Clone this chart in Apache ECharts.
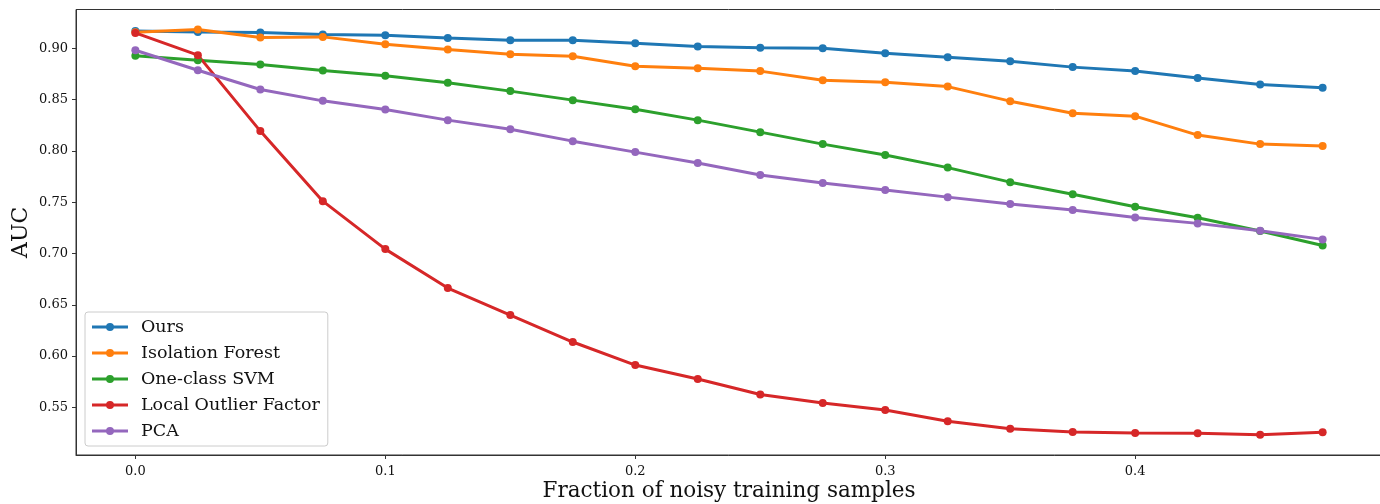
<!DOCTYPE html>
<html>
<head>
<meta charset="utf-8">
<script src="https://cdn.jsdelivr.net/npm/echarts@6/dist/echarts.min.js"></script>
<style>html,body{margin:0;padding:0;background:#fff}#c{width:1380px;height:504px}</style>
</head>
<body>
<div id="c"></div>
<script>
const fractions = [0, 0.025, 0.05, 0.075, 0.1, 0.125, 0.15, 0.175, 0.2, 0.225, 0.25, 0.275, 0.3, 0.325, 0.35, 0.375, 0.4, 0.425, 0.45, 0.475];
const ours = [0.917, 0.916, 0.9156, 0.9137, 0.913, 0.9103, 0.908, 0.908, 0.905, 0.902, 0.9008, 0.9003, 0.8954, 0.8915, 0.8876, 0.8818, 0.878, 0.8713, 0.8649, 0.8616];
const isolationForest = [0.9159, 0.9185, 0.9107, 0.9113, 0.9042, 0.899, 0.8944, 0.8925, 0.8827, 0.8808, 0.8779, 0.8691, 0.8671, 0.8628, 0.8486, 0.8369, 0.834, 0.8155, 0.8067, 0.8048];
const oneClassSVM = [0.8928, 0.8886, 0.8844, 0.8786, 0.8733, 0.8665, 0.8584, 0.8496, 0.8408, 0.8301, 0.8184, 0.8067, 0.796, 0.7838, 0.7696, 0.7579, 0.7456, 0.7349, 0.7219, 0.7079];
const localOutlierFactor = [0.9152, 0.8935, 0.8194, 0.7511, 0.7043, 0.6663, 0.64, 0.6137, 0.5912, 0.5776, 0.5625, 0.5542, 0.5474, 0.5364, 0.5292, 0.5259, 0.525, 0.5246, 0.5233, 0.5256];
const pca = [0.8983, 0.8788, 0.86, 0.8489, 0.8405, 0.8301, 0.8213, 0.8096, 0.7989, 0.7882, 0.7765, 0.7687, 0.7619, 0.755, 0.7482, 0.7424, 0.7352, 0.7294, 0.7222, 0.7138];
const xTicks = [0, 0.1, 0.2, 0.3, 0.4];
const yTicks = [0.55, 0.60, 0.65, 0.70, 0.75, 0.80, 0.85, 0.90];
const seriesNames = ['Ours', 'Isolation Forest', 'One-class SVM', 'Local Outlier Factor', 'PCA'];
const seriesValues = [ours, isolationForest, oneClassSVM, localOutlierFactor, pca];
const colors = ['#1f77b4', '#ff7f0e', '#2ca02c', '#d62728', '#9467bd'];

const font = 'DejaVu Serif';
// legend icon: 3px line with a small circle marker (36 x 8 box)
const legendIcon = 'path://M0,2.5 L36,2.5 L36,5.5 L0,5.5 Z M22,4 A4,4 0 1,1 14,4 A4,4 0 1,1 22,4 Z';
const chart = echarts.init(document.getElementById('c'), null, {renderer: 'canvas'});
chart.setOption({
  animation: false,
  backgroundColor: '#fff',
  grid: {left: 76, right: -2, top: 9.5, bottom: 49, show: true, borderColor: '#333', borderWidth: 1,
    containLabel: false, outerBoundsMode: 'none'},
  legend: {
    left: 85, top: 312, orient: 'vertical',
    backgroundColor: '#fff', borderColor: '#ccc', borderWidth: 1, borderRadius: 3,
    padding: [6, 8, 6, 7], itemGap: 8, itemWidth: 36, itemHeight: 8,
    icon: legendIcon,
    textStyle: {fontFamily: font, fontSize: 17.5, color: '#111', lineHeight: 18, padding: [0, 0, 0, 8]},
    data: seriesNames
  },
  xAxis: {
    type: 'value', min: -0.02375, max: 0.49875,
    name: 'Fraction of noisy training samples', nameLocation: 'middle', nameGap: 25, nameMoveOverlap: false,
    nameTextStyle: {fontFamily: font, fontSize: 21.5, color: '#111'},
    splitLine: {show: false},
    axisLine: {show: true, onZero: false, lineStyle: {color: '#333', width: 1}},
    axisTick: {show: true, length: 4, lineStyle: {color: '#333'}, customValues: xTicks},
    axisLabel: {fontFamily: font, fontSize: 13, color: '#111', margin: 10, customValues: xTicks,
      formatter: v => v.toFixed(1)}
  },
  yAxis: {
    type: 'value', min: 0.5035, max: 0.938,
    name: 'AUC', nameLocation: 'middle', nameGap: 44, nameMoveOverlap: false,
    nameTextStyle: {fontFamily: font, fontSize: 22, color: '#111'},
    splitLine: {show: false},
    axisLine: {show: true, onZero: false, lineStyle: {color: '#333', width: 1}},
    axisTick: {show: true, length: 4, lineStyle: {color: '#333'}, customValues: yTicks},
    axisLabel: {fontFamily: font, fontSize: 13, color: '#111', margin: 8, customValues: yTicks,
      formatter: v => v.toFixed(2)}
  },
  series: seriesNames.map((name, i) => ({
    name: name, type: 'line',
    data: fractions.map((x, j) => [x, seriesValues[i][j]]),
    symbol: 'circle', symbolSize: 8, showAllSymbol: true,
    lineStyle: {width: 3, color: colors[i]},
    itemStyle: {color: colors[i]},
    emphasis: {disabled: true}
  }))
});
</script>
</body>
</html>
